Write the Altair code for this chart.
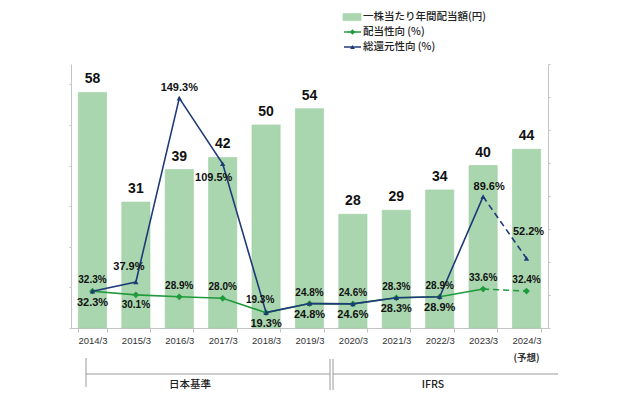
import altair as alt
import pandas as pd

cats = ["2014/3", "2015/3", "2016/3", "2017/3", "2018/3", "2019/3",
        "2020/3", "2021/3", "2022/3", "2023/3", "2024/3"]
dividend = [58, 31, 39, 42, 50, 54, 28, 29, 34, 40, 44]
payout = [32.3, 30.1, 28.9, 28.0, 19.3, 24.8, 24.6, 28.3, 28.9, 33.6, 32.4]
total = [32.3, 37.9, 149.3, 109.5, 19.3, 24.8, 24.6, 28.3, 28.9, 89.6, 52.2]
payout_pos = ["above", "below", "above", "above", "aboveleft", "above",
              "above", "above", "above", "above", "above"]
total_pos = ["below", "aboveleft", "above", "belowleft", "below", "below",
             "below", "below", "below", "aboveright", "abovefar"]
forecast_idx = 9
legend_labels = ["一株当たり年間配当額(円)", "配当性向 (%)", "総還元性向 (%)"]
groups = ["日本基準", "IFRS"]
forecast_note = "(予想)"

BAR = "#a9d6ae"
GREEN = "#1f9a3c"
NAVY = "#1f3a78"
AX = "#c4c4c4"
FONT = "Liberation Sans"
JP = "Noto Sans CJK JP"

pay_off = {"above": (0, -11), "below": (0, 10), "aboveleft": (-6, -13)}
tot_off = {"below": (0, 11.5), "aboveleft": (-7, -15), "above": (0, -10),
           "belowleft": (-9, 14), "aboveright": (6, -10), "abovefar": (2, -26)}

df = pd.DataFrame({"cat": cats, "dividend": dividend, "payout": payout,
                   "total": total, "ppos": payout_pos, "tpos": total_pos,
                   "idx": list(range(len(cats)))})
base = alt.Chart(df)

X = alt.X("cat:N", sort=cats,
          scale=alt.Scale(domain=cats, paddingInner=0.35, paddingOuter=0.17),
          axis=alt.Axis(title=None, labelAngle=0, labelFontSize=9.5, labelColor="#333",
                        labelFont=FONT, domainColor=AX, tickColor=AX, tickSize=4,
                        tickBand="extent", labelPadding=3, grid=False))
Yb = alt.Y("dividend:Q", scale=alt.Scale(domain=[0, 65], nice=False, zero=True),
           axis=alt.Axis(title=None, labels=False, values=list(range(0, 61, 10)),
                         domainColor=AX, tickColor=AX, tickSize=2, grid=False))

bars = base.mark_bar(color=BAR, stroke="#9fcfa5", strokeWidth=0.6).encode(x=X, y=Yb)
bar_text = base.mark_text(font=FONT, fontSize=14, fontWeight="bold", baseline="bottom",
                          dy=-6, color="#111").encode(x=X, y=Yb, text="dividend:Q")

bar_layers = [bars, bar_text]

# forecast note under last category
bar_layers.append(
    alt.Chart(pd.DataFrame({"cat": [cats[-1]], "t": [forecast_note]}))
    .mark_text(font=JP, fontSize=9.5, fontWeight="bold", color="#333", baseline="middle")
    .encode(x=X, y=alt.value(294), text="t:N"))

# group brackets (decoration)
def rule(x1, x2, y1, y2):
    return alt.Chart(pd.DataFrame({"a": [0]})).mark_rule(color="#9a9a9a", strokeWidth=1).encode(
        x=alt.value(x1), x2=alt.value(x2), y=alt.value(y1), y2=alt.value(y2))

bar_layers += [
    rule(15, 15, 294, 323),
    rule(15, 259, 310, 310),
    rule(259, 259, 295, 326),
    rule(262, 262, 295, 326),
    rule(262, 487, 310, 310),
]
for g, gx in zip(groups, [119, 362]):
    bar_layers.append(
        alt.Chart(pd.DataFrame({"t": [g]}))
        .mark_text(font=JP, fontSize=10.5, fontWeight=500, color="#222", baseline="middle")
        .encode(x=alt.value(gx), y=alt.value(321), text="t:N"))

# legend
leg_y = [-47, -32, -17]
bar_layers.append(
    alt.Chart(pd.DataFrame({"a": [0]})).mark_rect(color=BAR, stroke="#9fcfa5", strokeWidth=0.5)
    .encode(x=alt.value(272), x2=alt.value(290), y=alt.value(leg_y[0] - 3.5), y2=alt.value(leg_y[0] + 3.5)))
for i, (lab, ly) in enumerate(zip(legend_labels, leg_y)):
    bar_layers.append(
        alt.Chart(pd.DataFrame({"t": [lab]}))
        .mark_text(font=JP, fontSize=10.5, fontWeight=500, color="#222", align="left", baseline="middle")
        .encode(x=alt.value(292), y=alt.value(ly), text="t:N"))
for col, ly, shp, sz in [(GREEN, leg_y[1], "diamond", 30), (NAVY, leg_y[2], "triangle-up", 22)]:
    bar_layers.append(
        alt.Chart(pd.DataFrame({"a": [0]})).mark_rule(color=col, strokeWidth=1.5)
        .encode(x=alt.value(273), x2=alt.value(290), y=alt.value(ly)))
    bar_layers.append(
        alt.Chart(pd.DataFrame({"a": [0]})).mark_point(shape=shp, filled=True, color=col, size=sz, opacity=1)
        .encode(x=alt.value(281.5), y=alt.value(ly)))

bar_layer = alt.layer(*bar_layers)

# percentage layers
pscale = alt.Scale(domain=[10, 170], nice=False, zero=False)
paxis = alt.Axis(title=None, labels=False, orient="right", values=list(range(10, 171, 20)),
                 domainColor=AX, tickColor=AX, tickSize=2, grid=False)
Yp = alt.Y("payout:Q", scale=pscale, axis=paxis)
Yt = alt.Y("total:Q", scale=pscale, axis=paxis)

solid = alt.datum.idx <= forecast_idx
dashed = alt.datum.idx >= forecast_idx

pct_layers = [
    base.mark_line(color=GREEN, strokeWidth=1.6).encode(x=X, y=Yp).transform_filter(solid),
    base.mark_line(color=GREEN, strokeWidth=1.6, strokeDash=[6, 4]).encode(x=X, y=Yp).transform_filter(dashed),
    base.mark_point(shape="diamond", filled=True, color=GREEN, size=45, opacity=1).encode(x=X, y=Yp),
    base.mark_line(color=NAVY, strokeWidth=1.6).encode(x=X, y=Yt).transform_filter(solid),
    base.mark_line(color=NAVY, strokeWidth=1.6, strokeDash=[6, 4]).encode(x=X, y=Yt).transform_filter(dashed),
    base.mark_point(shape="triangle-up", filled=True, color=NAVY, size=28, opacity=1).encode(x=X, y=Yt),
]
for p, (dx, dy) in pay_off.items():
    pct_layers.append(
        base.transform_filter(alt.datum.ppos == p)
        .transform_calculate(lab="format(datum.payout, '.1f') + '%'")
        .mark_text(font=FONT, fontSize=10, fontWeight="bold", color="#111", dx=dx, dy=dy)
        .encode(x=X, y=Yp, text="lab:N"))
for p, (dx, dy) in tot_off.items():
    pct_layers.append(
        base.transform_filter(alt.datum.tpos == p)
        .transform_calculate(lab="format(datum.total, '.1f') + '%'")
        .mark_text(font=FONT, fontSize=11, fontWeight="bold", color="#111", dx=dx, dy=dy)
        .encode(x=X, y=Yt, text="lab:N"))

pct_layer = alt.layer(*pct_layers)

chart = (
    alt.layer(bar_layer, pct_layer)
    .resolve_scale(y="independent")
    .properties(width=477, height=264,
                autosize=alt.AutoSizeParams(type="none"),
                padding={"left": 63, "top": 56, "right": 60, "bottom": 64},
                background="white")
    .configure_view(stroke=None)
)

chart.save("out.html", embed_options={"renderer": "svg", "actions": False})
